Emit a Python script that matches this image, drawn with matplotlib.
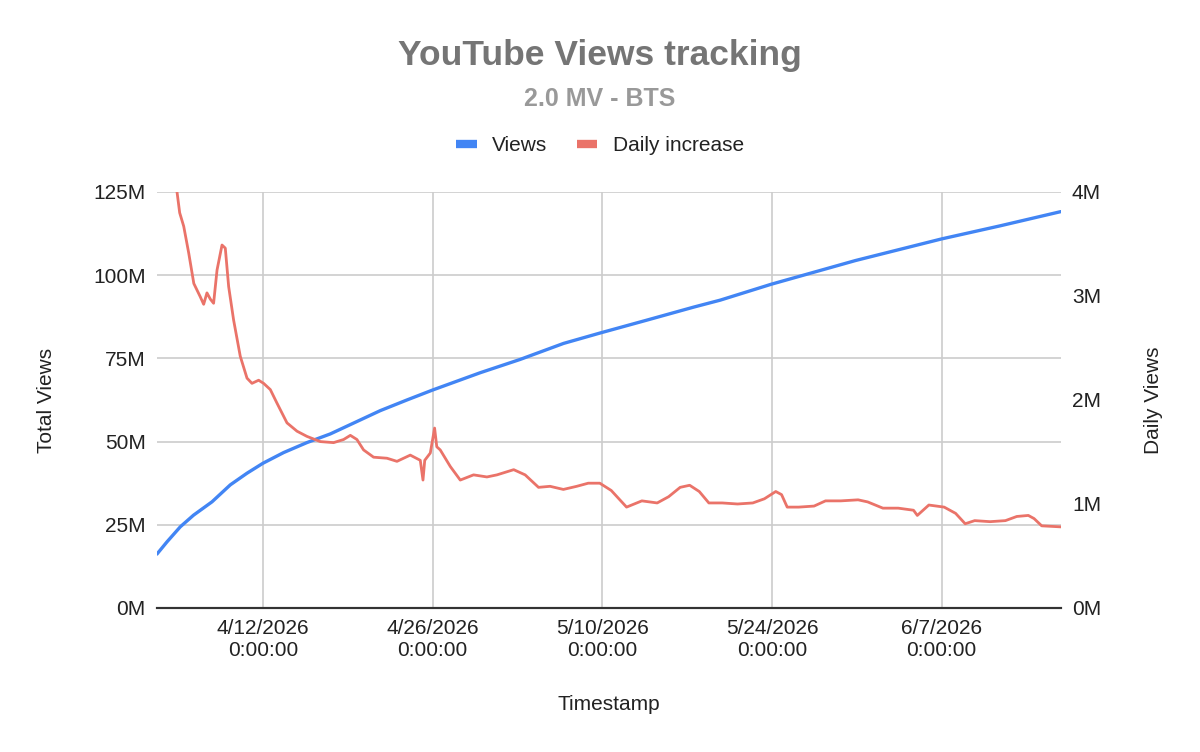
import numpy as np
import pandas as pd
import matplotlib
matplotlib.use("Agg")
from matplotlib import pyplot as plt
from matplotlib.lines import Line2D

plt.rcParams['font.family'] = ['Liberation Sans', 'DejaVu Sans']

# Total views (millions)
views_time = ["2026-04-03 06:00", "2026-04-04 02:00", "2026-04-05 04:15", "2026-04-06 06:30",
              "2026-04-07 19:00", "2026-04-09 07:15", "2026-04-10 16:20", "2026-04-12 00:00",
              "2026-04-13 16:50", "2026-04-15 15:00", "2026-04-17 13:15", "2026-04-20 00:40",
              "2026-04-21 16:15", "2026-04-23 21:00", "2026-04-26 00:00", "2026-04-29 22:20",
              "2026-05-03 05:30", "2026-05-06 19:15", "2026-05-09 21:20", "2026-05-13 16:20",
              "2026-05-17 12:45", "2026-05-19 17:30", "2026-05-23 23:00", "2026-05-30 21:20",
              "2026-06-07 00:00", "2026-06-11 19:00", "2026-06-16 20:00"]
views_m = [16.2, 19.9, 24.4, 27.9, 31.9, 37.0, 40.5, 43.5, 46.7, 49.7, 52.3, 56.5,
           59.3, 62.5, 65.5, 70.7, 74.7, 79.5, 82.7, 86.5, 90.4, 92.5, 97.3, 104.4,
           110.9, 114.8, 119.1]

# Daily increase (millions)
daily_time = ["2026-04-04 22:00", "2026-04-05 03:00", "2026-04-05 11:00", "2026-04-05 21:00",
              "2026-04-06 07:00", "2026-04-06 20:00", "2026-04-07 02:30", "2026-04-07 09:00",
              "2026-04-07 15:40", "2026-04-07 22:10", "2026-04-08 05:00", "2026-04-08 14:50",
              "2026-04-08 21:20", "2026-04-09 04:00", "2026-04-09 13:45", "2026-04-10 03:00",
              "2026-04-10 16:20", "2026-04-11 02:10", "2026-04-11 15:20", "2026-04-12 01:10",
              "2026-04-12 14:30", "2026-04-13 03:40", "2026-04-13 23:30", "2026-04-14 19:20",
              "2026-04-15 15:00", "2026-04-16 17:30", "2026-04-17 19:50", "2026-04-18 15:40",
              "2026-04-19 05:00", "2026-04-19 18:00", "2026-04-20 07:10", "2026-04-21 03:00",
              "2026-04-22 05:30", "2026-04-23 01:20", "2026-04-24 03:40", "2026-04-24 23:30",
              "2026-04-25 04:50", "2026-04-25 08:20", "2026-04-25 19:20", "2026-04-26 03:50",
              "2026-04-26 08:10", "2026-04-26 15:00", "2026-04-27 11:00", "2026-04-28 06:40",
              "2026-04-29 09:00", "2026-04-30 11:30", "2026-05-01 07:20", "2026-05-02 16:30",
              "2026-05-03 15:10", "2026-05-04 17:40", "2026-05-05 16:30", "2026-05-06 18:50",
              "2026-05-07 21:20", "2026-05-08 20:10", "2026-05-09 19:00", "2026-05-10 17:40",
              "2026-05-12 00:00", "2026-05-13 06:20", "2026-05-14 12:40", "2026-05-15 11:20",
              "2026-05-16 10:10", "2026-05-17 05:00", "2026-05-18 00:00", "2026-05-18 19:00",
              "2026-05-19 21:30", "2026-05-21 03:50", "2026-05-22 10:00", "2026-05-23 09:00",
              "2026-05-24 07:30", "2026-05-24 19:00", "2026-05-25 06:10", "2026-05-26 05:00",
              "2026-05-27 11:20", "2026-05-28 10:00", "2026-05-29 16:20", "2026-05-31 02:30",
              "2026-05-31 21:30", "2026-06-02 03:40", "2026-06-03 10:00", "2026-06-04 16:20",
              "2026-06-04 23:50", "2026-06-05 22:40", "2026-06-07 05:00", "2026-06-08 03:40",
              "2026-06-08 22:40", "2026-06-09 17:30", "2026-06-11 00:00", "2026-06-12 06:20",
              "2026-06-13 04:50", "2026-06-14 03:40", "2026-06-14 15:00", "2026-06-15 06:10",
              "2026-06-16 20:00"]
daily_m = [3.99, 3.80, 3.67, 3.41, 3.12, 2.99, 2.92, 3.03, 2.97, 2.93, 3.25, 3.49,
           3.46, 3.09, 2.77, 2.42, 2.21, 2.16, 2.19, 2.16, 2.10, 1.97, 1.78, 1.70,
           1.65, 1.60, 1.59, 1.62, 1.66, 1.62, 1.52, 1.45, 1.44, 1.41, 1.47, 1.42,
           1.23, 1.42, 1.49, 1.73, 1.55, 1.52, 1.36, 1.23, 1.28, 1.26, 1.28, 1.33,
           1.28, 1.16, 1.17, 1.14, 1.17, 1.20, 1.20, 1.13, 0.97, 1.03, 1.01, 1.07,
           1.16, 1.18, 1.12, 1.01, 1.01, 1.00, 1.01, 1.05, 1.12, 1.09, 0.97, 0.97,
           0.98, 1.03, 1.03, 1.04, 1.02, 0.96, 0.96, 0.94, 0.89, 0.99, 0.97, 0.91,
           0.81, 0.84, 0.83, 0.84, 0.88, 0.89, 0.86, 0.79, 0.78]

tick_dates = ["2026-04-12", "2026-04-26", "2026-05-10", "2026-05-24", "2026-06-07"]
tick_labels = ["4/12/2026\n0:00:00", "4/26/2026\n0:00:00", "5/10/2026\n0:00:00",
               "5/24/2026\n0:00:00", "6/7/2026\n0:00:00"]
left_ticks = [0, 25, 50, 75, 100, 125]
right_ticks = [0, 1, 2, 3, 4]

blue = '#4285F4'
red = '#EA7369'

vt = pd.to_datetime(views_time)
dt = pd.to_datetime(daily_time)

fig = plt.figure(figsize=(12, 7.52), dpi=100)
ax = fig.add_axes([0.1308, 0.1915, 0.7532, 0.5532])
ax2 = ax.twinx()

ax.plot(vt, views_m, color=blue, lw=2.4, solid_capstyle='round', solid_joinstyle='round')
ax2.plot(dt, daily_m, color=red, lw=2.0, solid_joinstyle='round')

ax.set_xlim(vt[0], vt[-1])
ax.set_ylim(0, 125)
ax2.set_ylim(0, 4)

ax.set_yticks(left_ticks)
ax.set_yticklabels([f"{v}M" for v in left_ticks])
ax2.set_yticks(right_ticks)
ax2.set_yticklabels([f"{v}M" for v in right_ticks])
ax.set_xticks(pd.to_datetime(tick_dates))
ax.set_xticklabels(tick_labels)

ax.grid(True, color='#CCCCCC', lw=1.2)
ax.set_axisbelow(True)
for a in (ax, ax2):
    for s in ('top', 'left', 'right'):
        a.spines[s].set_visible(False)
    a.spines['bottom'].set_color('#333333')
    a.spines['bottom'].set_linewidth(1.5)
    a.tick_params(length=0, labelsize=15, colors='#222222')
ax.tick_params(axis='y', pad=8)
ax2.tick_params(axis='y', pad=8)
ax.tick_params(axis='x', pad=8)

ax.set_ylabel("Total Views", fontsize=15, color='#222222', labelpad=27)
ax2.set_ylabel("Daily Views", fontsize=15, color='#222222', labelpad=31)
ax.set_xlabel("Timestamp", fontsize=15, color='#222222', labelpad=25)

fig.text(0.5, 0.926, "YouTube Views tracking", ha='center', va='center',
         fontsize=25.5, fontweight='bold', color='#757575')
fig.text(0.5, 0.869, "2.0 MV - BTS", ha='center', va='center',
         fontsize=18, fontweight='bold', color='#999999')

handles = [Line2D([], [], color=blue, lw=6, solid_capstyle='butt'),
           Line2D([], [], color=red, lw=6, solid_capstyle='butt')]
fig.legend(handles, ["Views", "Daily increase"], loc='center', bbox_to_anchor=(0.5, 0.806),
           ncol=2, frameon=False, fontsize=15, handlelength=1.0, columnspacing=1.4,
           handletextpad=0.75, labelcolor='#222222')

fig.savefig("out.png", dpi=100, facecolor='white')
